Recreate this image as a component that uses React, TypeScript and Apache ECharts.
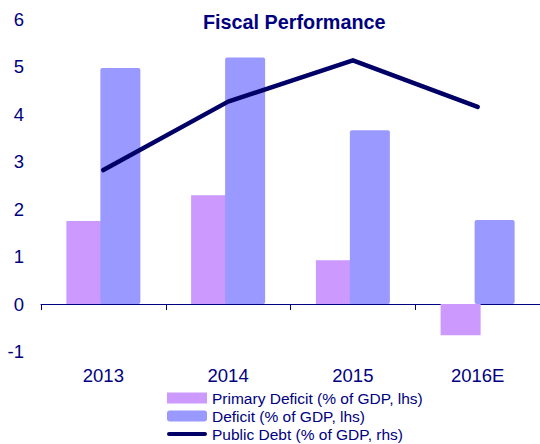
import React, { useEffect, useRef } from "react";
import * as echarts from "echarts";

const categories = ["2013", "2014", "2015", "2016E"];
const primaryDeficit = [1.75, 2.29, 0.92, -0.66];
const deficit = [4.97, 5.19, 3.66, 1.77];
const publicDebt = [2.82, 4.26, 5.13, 4.15];
const yTicks = { min: -1, max: 6, interval: 1 };

const NAVY = "#000080";
const FONT = 'Arial, "Liberation Sans", sans-serif';
const LINE_ICON =
  "path://M0,0L0,0M0,11L0,11M2,3.5L38,3.5A2,2 0 0 1 38,7.5L2,7.5A2,2 0 0 1 2,3.5Z";

export default function App() {
  const ref = useRef<HTMLDivElement>(null);
  useEffect(() => {
    if (!ref.current) return;
    const chart = echarts.init(ref.current, undefined, { renderer: "svg" });
    chart.setOption({
      animation: false,
      backgroundColor: "#ffffff",
      title: {
        text: "Fiscal Performance",
        left: 203,
        top: 12,
        padding: 0,
        textStyle: { fontFamily: FONT, fontSize: 19.8, fontWeight: "bold", color: NAVY },
      },
      legend: {
        orient: "vertical",
        left: 167,
        top: 389,
        padding: 0,
        itemWidth: 40,
        itemHeight: 11,
        itemGap: 0,
        textStyle: { fontFamily: FONT, fontSize: 15.5, color: NAVY, lineHeight: 18, height: 18 },
        data: [
          { name: "Primary Deficit (% of GDP, lhs)", icon: "rect" },
          { name: "Deficit (% of GDP, lhs)", icon: "roundRect" },
          {
            name: "Public Debt (% of GDP, rhs)",
            icon: LINE_ICON,
            itemStyle: { color: "#000066", borderWidth: 0 },
          },
        ],
      },
      grid: { left: 41, right: -5, top: 19, bottom: 92.5, containLabel: false },
      xAxis: [
        {
          type: "category",
          data: categories,
          position: "bottom",
          axisLine: { show: true, onZero: true, lineStyle: { color: NAVY, width: 1 } },
          axisTick: { show: true, length: 6, interval: 0, lineStyle: { color: NAVY, width: 1 } },
          axisLabel: { show: false },
        },
        {
          type: "category",
          data: categories,
          position: "bottom",
          axisLine: { show: false, onZero: false },
          axisTick: { show: false },
          axisLabel: { show: true, margin: 14, fontFamily: FONT, fontSize: 18.5, color: NAVY },
        },
      ],
      yAxis: [
        {
          type: "value",
          min: yTicks.min,
          max: yTicks.max,
          interval: yTicks.interval,
          axisLine: { show: false },
          axisTick: { show: false },
          splitLine: { show: false },
          axisLabel: { margin: 17, fontFamily: FONT, fontSize: 18.5, color: NAVY },
        },
        {
          type: "value",
          min: yTicks.min,
          max: yTicks.max,
          interval: yTicks.interval,
          show: false,
        },
      ],
      series: [
        {
          name: "Primary Deficit (% of GDP, lhs)",
          type: "bar",
          data: primaryDeficit,
          barWidth: 40,
          barGap: "-15%",
          itemStyle: { color: "#CC99FF" },
        },
        {
          name: "Deficit (% of GDP, lhs)",
          type: "bar",
          data: deficit,
          barWidth: 40,
          barGap: "-15%",
          itemStyle: { color: "#9999FF", borderRadius: 2 },
        },
        {
          name: "Public Debt (% of GDP, rhs)",
          type: "line",
          yAxisIndex: 1,
          data: publicDebt,
          symbol: "none",
          showSymbol: false,
          lineStyle: { color: "#000066", width: 4.5, cap: "round", join: "round" },
          itemStyle: { color: "#000066" },
          z: 5,
        },
      ],
    });
    return () => chart.dispose();
  }, []);
  return (
    <div
      ref={ref}
      style={{ position: "absolute", left: 0, top: 0, width: 540, height: 444 }}
    />
  );
}
